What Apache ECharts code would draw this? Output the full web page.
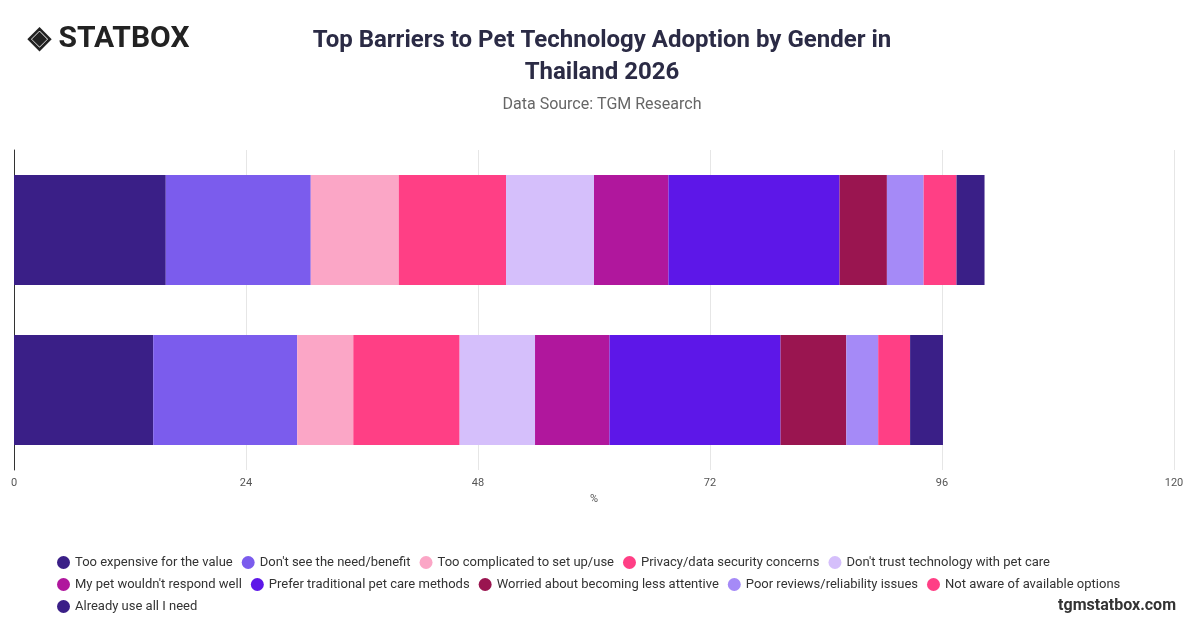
<!DOCTYPE html>
<html>
<head>
<meta charset="utf-8">
<script src="https://cdn.jsdelivr.net/npm/echarts@6/dist/echarts.min.js"></script>
<style>body{margin:0}#main{width:1200px;height:628px}</style>
</head>
<body>
<div id="main"></div>
<script>
var groups = ['Male', 'Female'];
var barriers = ['Too expensive for the value', "Don't see the need/benefit", 'Too complicated to set up/use',
  'Privacy/data security concerns', "Don't trust technology with pet care", "My pet wouldn't respond well",
  'Prefer traditional pet care methods', 'Worried about becoming less attentive', 'Poor reviews/reliability issues',
  'Not aware of available options', 'Already use all I need'];
var maleValues = [15.7, 15.0, 9.1, 11.1, 9.1, 7.7, 17.7, 4.9, 3.8, 3.4, 2.9];
var femaleValues = [14.4, 14.9, 5.8, 11.0, 7.8, 7.7, 17.7, 6.8, 3.3, 3.3, 3.4];
var colors = ['#3a1f87', '#7b5ced', '#fba6c6', '#ff3f85', '#d5bffb', '#b0179d', '#5d17e8', '#9a1550', '#a58af7', '#ff3f85', '#3a1f87'];

var series = barriers.map(function (name, i) {
    return {name: name, type: 'bar', stack: 'all', barWidth: 110,
        itemStyle: {color: colors[i]}, data: [maleValues[i], femaleValues[i]]};
});

var chart = echarts.init(document.getElementById('main'));
chart.setOption({
    textStyle: {fontFamily: 'Roboto'},
    graphic: [
        {type: 'text', left: 28, top: 24, style: {text: '◈ STATBOX', font: 'bold 30px Roboto', fill: '#222'}},
        {type: 'text', right: 24, bottom: 14, style: {text: 'tgmstatbox.com', font: 'bold 16px Roboto', fill: '#333'}}
    ],
    title: {text: 'Top Barriers to Pet Technology Adoption by Gender in\nThailand 2026', left: 597, textAlign: 'center', top: 20,
        textStyle: {fontSize: 24, fontWeight: 'bold', color: '#2b2b45', lineHeight: 32},
        subtext: 'Data Source: TGM Research', subtextStyle: {fontSize: 16, color: '#666'}, itemGap: 8},
    legend: {bottom: 10, left: 52, right: 40, itemWidth: 13, itemHeight: 13, icon: 'circle', itemGap: 9,
        textStyle: {fontSize: 13, color: '#333', padding: [0, 4, 0, 0]}},
    grid: {left: 14, right: 26, top: 150, bottom: 158},
    xAxis: {type: 'value', min: 0, max: 120, interval: 24, name: '%', nameLocation: 'middle', nameGap: 20,
        nameTextStyle: {fontSize: 11, color: '#555'},
        axisLabel: {fontSize: 11, color: '#555'}, splitLine: {lineStyle: {color: '#e6e6e6'}}},
    yAxis: {type: 'category', data: groups, inverse: true, axisLabel: {show: false}, axisTick: {show: false},
        axisLine: {lineStyle: {color: '#333'}}},
    series: series
});
</script>
</body>
</html>
